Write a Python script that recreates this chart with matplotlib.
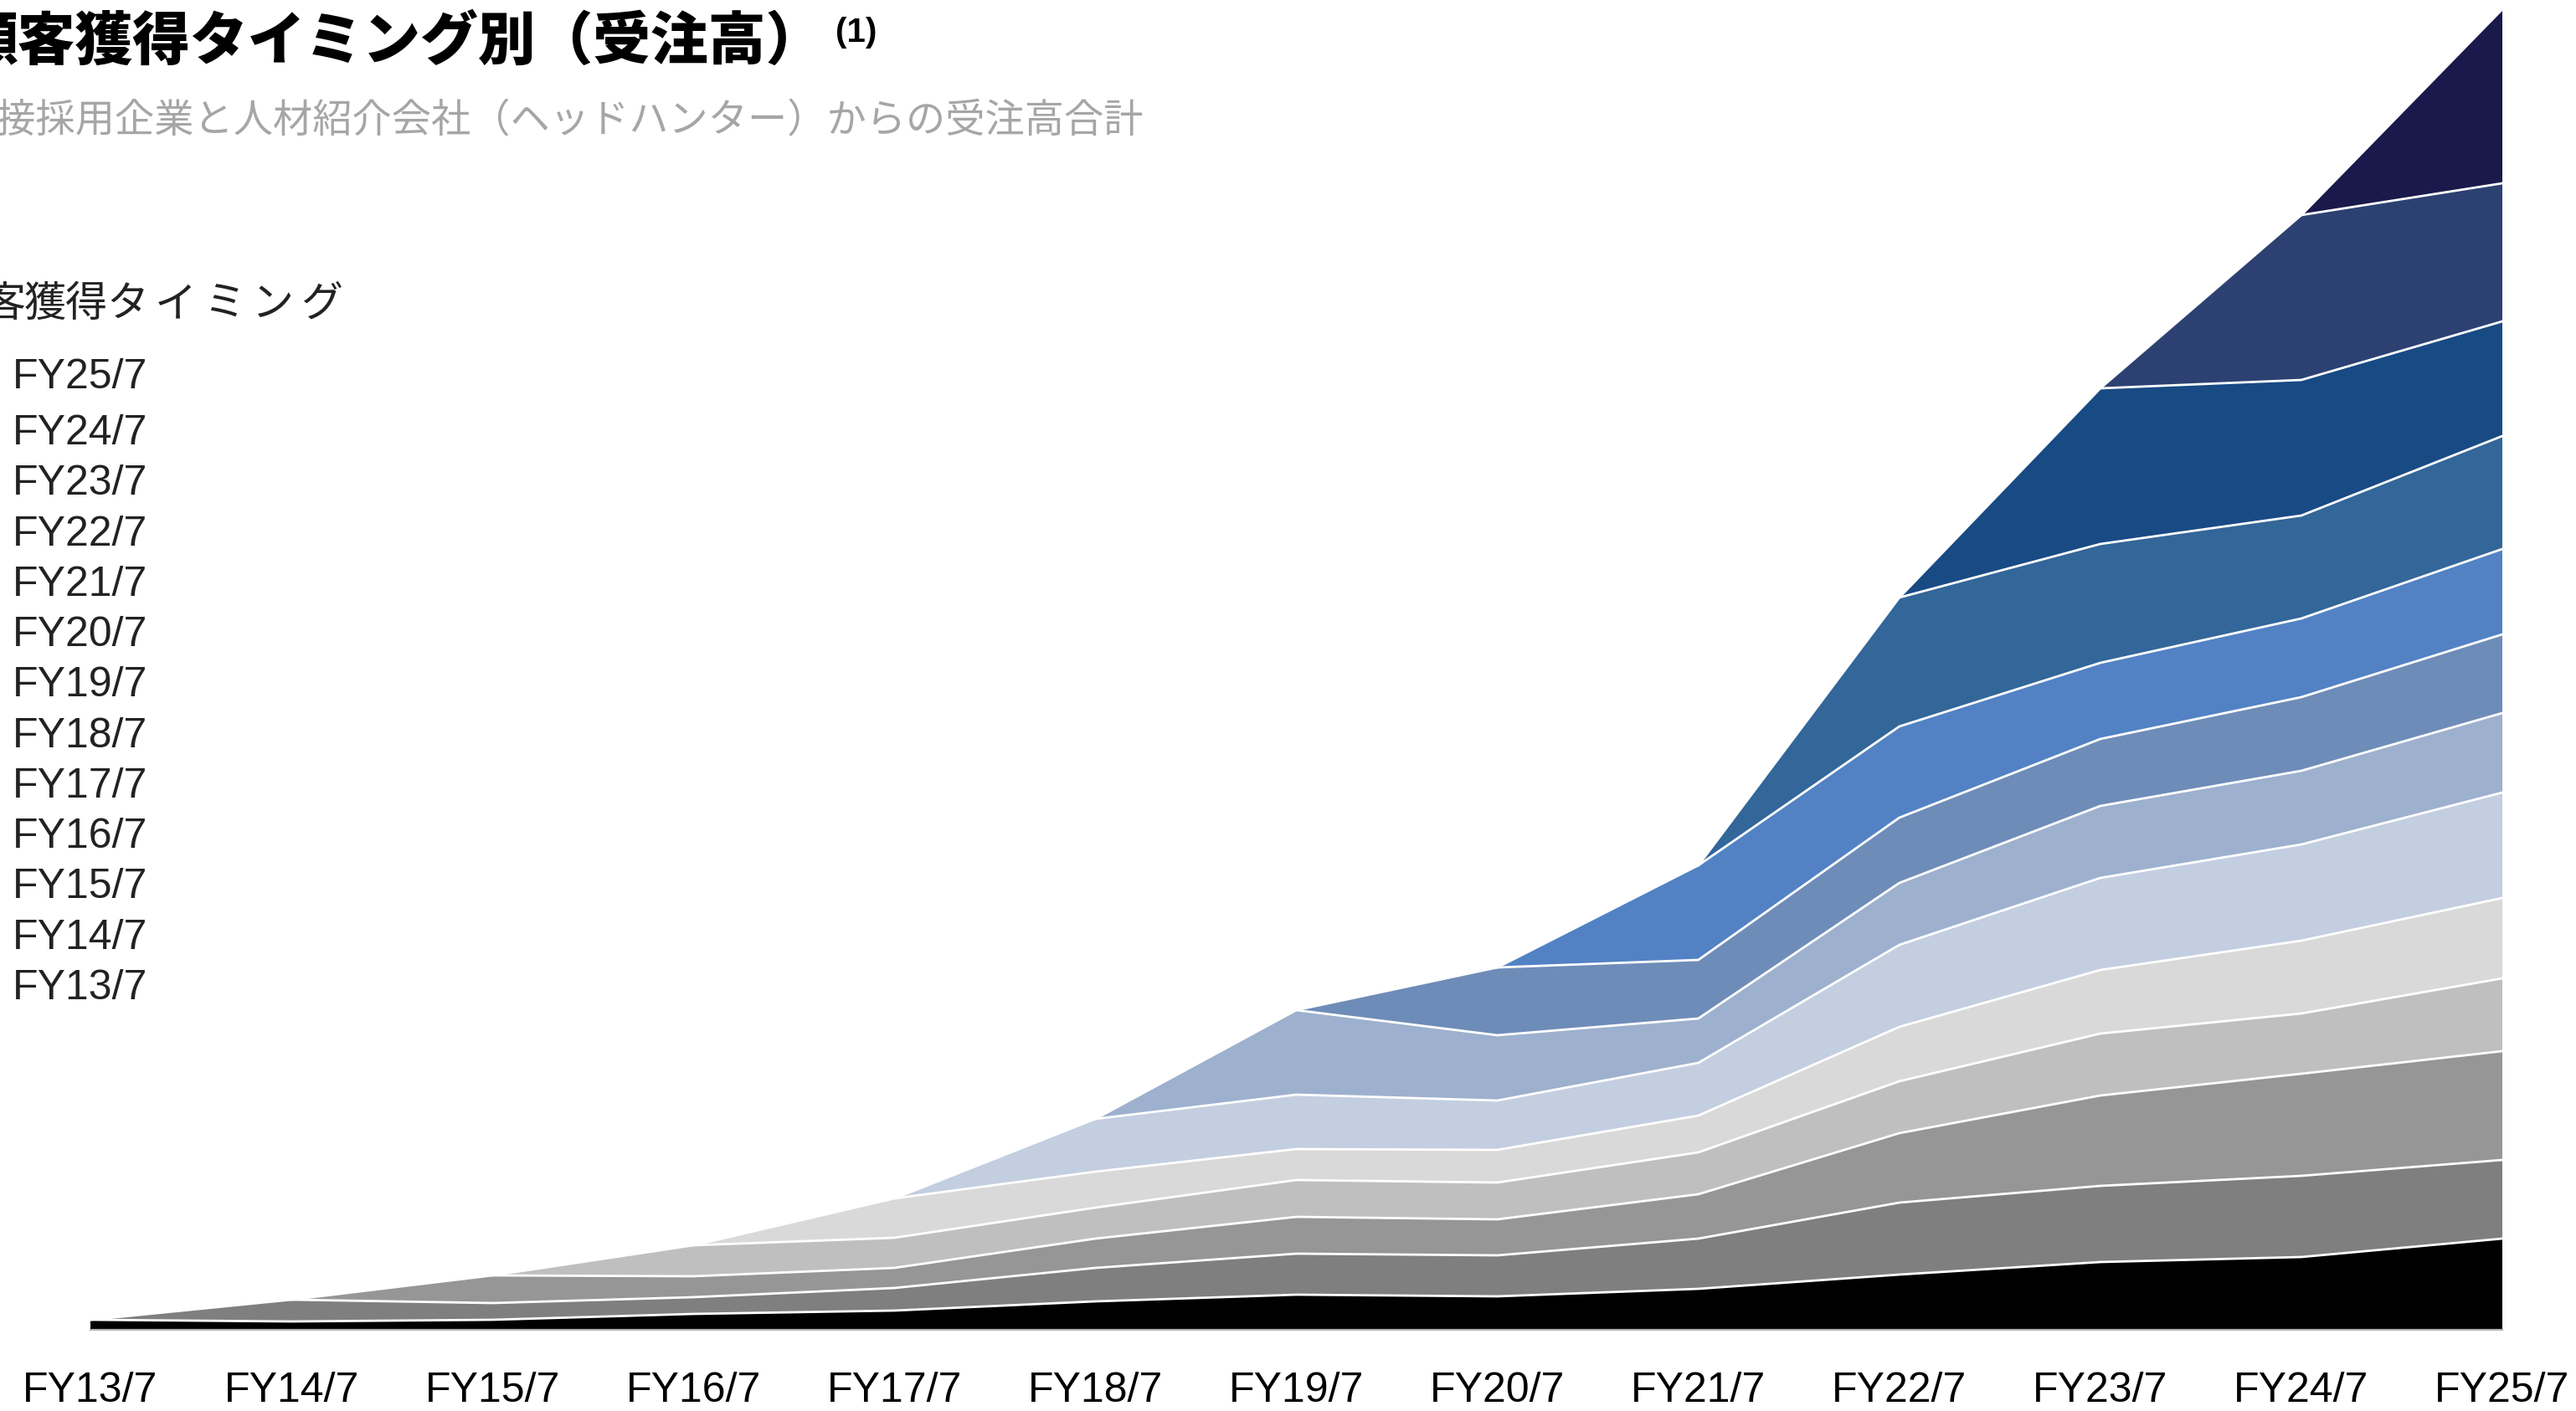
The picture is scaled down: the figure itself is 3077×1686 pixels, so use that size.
import numpy as np
import matplotlib
matplotlib.use('Agg')
from matplotlib import pyplot as plt

# Data (arbitrary units)
years = ['FY13/7', 'FY14/7', 'FY15/7', 'FY16/7', 'FY17/7', 'FY18/7', 'FY19/7',
         'FY20/7', 'FY21/7', 'FY22/7', 'FY23/7', 'FY24/7', 'FY25/7']
cohorts = years  # customer acquisition timing

fy13 = [12, 10, 12, 19, 23, 34, 42, 40, 49, 66, 81, 87, 109]
fy14 = [0, 26, 20, 20, 27, 40, 49, 49, 60, 86, 91, 97, 94]
fy15 = [0, 0, 33, 25, 24, 35, 44, 43, 53, 83, 108, 122, 130]
fy16 = [0, 0, 0, 37, 36, 37, 44, 44, 50, 62, 74, 72, 87]
fy17 = [0, 0, 0, 0, 47, 43, 37, 39, 44, 65, 76, 87, 96]
fy18 = [0, 0, 0, 0, 0, 63, 65, 59, 63, 98, 110, 115, 126]
fy19 = [0, 0, 0, 0, 0, 0, 101, 78, 53, 74, 86, 88, 95]
fy20 = [0, 0, 0, 0, 0, 0, 0, 81, 70, 78, 80, 88, 94]
fy21 = [0, 0, 0, 0, 0, 0, 0, 0, 113, 109, 91, 94, 102]
fy22 = [0, 0, 0, 0, 0, 0, 0, 0, 0, 154, 142, 123, 135]
fy23 = [0, 0, 0, 0, 0, 0, 0, 0, 0, 0, 186, 162, 137]
fy24 = [0, 0, 0, 0, 0, 0, 0, 0, 0, 0, 0, 197, 165]
fy25 = [0, 0, 0, 0, 0, 0, 0, 0, 0, 0, 0, 0, 208]

series = [fy13, fy14, fy15, fy16, fy17, fy18, fy19, fy20, fy21, fy22, fy23, fy24, fy25]
colors = ['#000000', '#7f7f7f', '#969696', '#bfbfbf', '#d9d9d9', '#c3cee0',
          '#9db0ce', '#6e8cb8', '#5282c4', '#336699', '#184a84', '#2c4172', '#19194b']

title = '顧客獲得タイミング別（受注高）'
subtitle = '直接採用企業と人材紹介会社（ヘッドハンター）からの受注高合計'
legend_title = '顧客獲得タイミング'

cjk = ['Noto Sans CJK JP', 'DejaVu Sans']
latin = ['Liberation Sans', 'DejaVu Sans']

W, H = 3077, 1686
fig = plt.figure(figsize=(W / 100, H / 100), dpi=100)
ax = fig.add_axes([108 / W, 1 - 1589 / H, (2989 - 108) / W, (1589 - 11) / H])

x = np.arange(len(years))
vals = np.array(series, dtype=float)
upper = vals.cumsum(axis=0)
lower = upper - vals

for i, c in enumerate(colors):
    s = max(i - 1, 0)
    ax.fill_between(x[s:], lower[i, s:], upper[i, s:], facecolor=c, linewidth=0)
for i in range(len(colors)):
    s = max(i - 1, 0)
    ax.plot(x[s:], upper[i, s:], color='white', lw=2.0, solid_joinstyle='miter')

ax.set_xlim(0, len(years) - 1)
ax.set_ylim(0, upper[-1].max())
ax.set_xticks(x)
ax.set_xticklabels(years, fontfamily=latin, fontsize=36)
ax.tick_params(axis='x', length=0, pad=36)
ax.set_yticks([])
for side in ['top', 'left', 'right']:
    ax.spines[side].set_visible(False)
ax.spines['bottom'].set_color('#b4b4b4')
ax.spines['bottom'].set_linewidth(1.6)

# titles (cut off at the left edge like the reference)
fig.text(-48 / W, 1 - 50 / H, title, family=cjk, fontsize=49.5, fontweight='heavy',
         ha='left', va='center', color='#000000')
fig.text(998 / W, 1 - 39 / H, '(1)', family=latin, fontsize=29, fontweight='bold',
         ha='left', va='center', color='#000000')
fig.text(-52 / W, 1 - 144 / H, subtitle, family=cjk, fontsize=34,
         ha='left', va='center', color='#a6a6a6')

# legend header, with wider spacing on the kana like the reference
xp = -69
for ch in legend_title:
    fig.text(xp / W, 1 - 364 / H, ch, family=cjk, fontsize=36,
             ha='left', va='center', color='#222222')
    xp += 49 if ord(ch) > 0x4e00 else 58

ypos = [451] + list(np.linspace(518, 1181, len(cohorts) - 1))
for lab, yp in zip(cohorts[::-1], ypos):
    fig.text(15 / W, 1 - yp / H, lab, family=latin, fontsize=36,
             ha='left', va='center', color='#222222')

fig.savefig('out.png', dpi=100)
